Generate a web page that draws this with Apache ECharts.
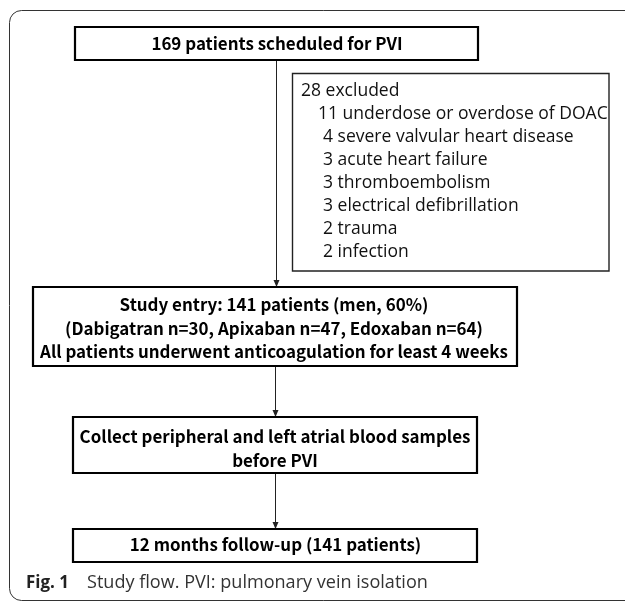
<!DOCTYPE html>
<html><head><meta charset="utf-8">
<script src="https://cdn.jsdelivr.net/npm/echarts@6/dist/echarts.min.js"></script>
<style>html,body{margin:0;padding:0;background:#fff}#c{width:625px;height:601px}</style>
</head><body><div id="c"></div><script>
// ---- data ----
const scheduledLines = ['169 patients scheduled for PVI'];
const excludedTotal = 28;
const exclusionCounts = [11, 4, 3, 3, 3, 2, 2];
const exclusionReasons = ['underdose or overdose of DOAC', 'severe valvular heart disease', 'acute heart failure', 'thromboembolism', 'electrical defibrillation', 'trauma', 'infection'];
const entryLines = ['Study entry: 141 patients (men, 60%)', '(Dabigatran n=30, Apixaban n=47, Edoxaban n=64)', 'All patients underwent anticoagulation for least 4 weeks'];
const samplingLines = ['Collect peripheral and left atrial blood samples', 'before PVI'];
const followUpLines = ['12 months follow-up (141 patients)'];
const captionLabel = 'Fig. 1';
const captionText = 'Study flow. PVI: pulmonary vein isolation';

// ---- font fitting ----
const ctx = document.createElement('canvas').getContext('2d');
function fit(text, weight, family, target) {
  ctx.font = weight + ' 100px ' + family;
  return 100 * target / ctx.measureText(text).width;
}
const boxFamily = "'Noto Sans CJK JP', 'Noto Sans', sans-serif";
const exFamily = "'Open Sans', 'Noto Sans', sans-serif";
const capFamily = "'Open Sans', 'Noto Sans', sans-serif";
const boxSize = fit(entryLines[2], 'bold', boxFamily, 468);
const exSize = fit(exclusionCounts[0] + ' ' + exclusionReasons[0], 'normal', exFamily, 290);
const capBoldSize = fit(captionLabel, 'bold', capFamily, 43);
const capSize = fit(captionText, 'normal', capFamily, 341);

const els = [];
// outer frame
els.push({ type: 'rect', shape: { x: 9.5, y: 10.5, width: 700, height: 590, r: 12 }, style: { fill: 'none', stroke: '#333', lineWidth: 1 } });

function box(x1, y1, x2, y2, lw, stroke) {
  els.push({ type: 'rect', shape: { x: x1, y: y1, width: x2 - x1, height: y2 - y1 }, style: { fill: '#fff', stroke: stroke || '#000', lineWidth: lw } });
}
function centeredLines(lines, cx, ys) {
  lines.forEach((t, i) => {
    els.push({ type: 'text', style: { text: t, x: cx, y: ys[i], align: 'center', verticalAlign: 'middle', font: 'bold ' + boxSize.toFixed(2) + 'px ' + boxFamily, fill: '#000' } });
  });
}
function arrow(x, y1, y2) {
  els.push({ type: 'line', shape: { x1: x, y1: y1, x2: x, y2: y2 - 5 }, style: { stroke: '#222', lineWidth: 1 } });
  els.push({ type: 'polygon', shape: { points: [[x - 3, y2 - 7], [x + 3, y2 - 7], [x, y2]] }, style: { fill: '#222' } });
}

// connectors (drawn first, boxes cover them)
arrow(276.5, 60, 287);
arrow(275.5, 366, 417);
arrow(275.5, 473, 529);

// box 1
box(75, 27, 478, 60, 2.2);
centeredLines(scheduledLines, 277, [44]);

// exclusion box
box(292.5, 73.5, 609, 271, 1.4, '#222');
els.push({ type: 'text', style: { text: excludedTotal + ' excluded', x: 301, y: 91, align: 'left', verticalAlign: 'middle', font: exSize.toFixed(2) + 'px ' + exFamily, fill: '#111' } });
exclusionCounts.forEach((n, i) => {
  els.push({ type: 'text', style: { text: n + ' ' + exclusionReasons[i], x: n >= 10 ? 318 : 323, y: 114 + i * 23, align: 'left', verticalAlign: 'middle', font: exSize.toFixed(2) + 'px ' + exFamily, fill: '#111' } });
});

// study entry box
box(33, 287, 517, 366, 2.2);
centeredLines(entryLines, 274, [305, 329, 352]);

// sampling box
box(73, 417, 477, 473, 2.2);
centeredLines(samplingLines, 275, [437, 461]);

// follow-up box
box(73, 529, 477, 562, 2.2);
centeredLines(followUpLines, 275.5, [545]);

// caption
els.push({ type: 'text', style: { text: captionLabel, x: 26, y: 583, align: 'left', verticalAlign: 'middle', font: 'bold ' + capBoldSize.toFixed(2) + 'px ' + capFamily, fill: '#222' } });
els.push({ type: 'text', style: { text: captionText, x: 87, y: 583, align: 'left', verticalAlign: 'middle', font: capSize.toFixed(2) + 'px ' + capFamily, fill: '#333' } });

const chart = echarts.init(document.getElementById('c'), null, { renderer: 'canvas' });
chart.setOption({ backgroundColor: '#fff', animation: false, graphic: { elements: els } });
</script></body></html>
